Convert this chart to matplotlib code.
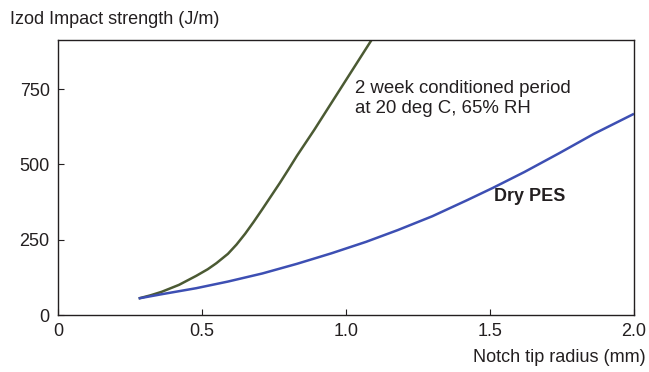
import matplotlib
matplotlib.use('Agg')
import matplotlib.pyplot as plt

# Data
conditioned_x = [0.28, 0.32, 0.36, 0.42, 0.48, 0.52, 0.55, 0.59, 0.62, 0.65, 0.68,
                 0.71, 0.74, 0.77, 0.80, 0.83, 0.89, 0.94, 1.01, 1.10]
conditioned_y = [55, 65, 77, 100, 130, 152, 172, 203, 234, 270, 310,
                 352, 395, 438, 483, 529, 615, 690, 795, 930]

dry_x = [0.28, 0.36, 0.48, 0.59, 0.71, 0.83, 0.95, 1.07, 1.18, 1.30, 1.42,
         1.51, 1.62, 1.74, 1.86, 2.0]
dry_y = [55, 69, 89, 111, 138, 170, 205, 243, 282, 328, 381,
         422, 475, 537, 601, 668]

x_ticks = [0, 0.5, 1.0, 1.5, 2.0]
x_tick_labels = ['0', '0.5', '1.0', '1.5', '2.0']
y_ticks = [0, 250, 500, 750]

plt.rcParams['font.family'] = ['Liberation Sans', 'DejaVu Sans']
ink = '#231f20'

fig = plt.figure(figsize=(6.49, 3.72), dpi=100)
ax = fig.add_axes([58 / 649, 1 - 315 / 372, (634 - 58) / 649, (315 - 40) / 372])

ax.plot(conditioned_x, conditioned_y, color='#4b5a33', lw=1.8,
        solid_capstyle='butt', solid_joinstyle='round')
ax.plot(dry_x, dry_y, color='#3d4fb3', lw=1.8,
        solid_capstyle='butt', solid_joinstyle='round')

ax.set_xlim(0, 2.0)
ax.set_ylim(0, 913)
ax.set_xticks(x_ticks)
ax.set_xticklabels(x_tick_labels)
ax.set_yticks(y_ticks)

for s in ax.spines.values():
    s.set_color(ink)
    s.set_linewidth(1.0)
ax.tick_params(direction='in', length=4, width=0.8, color=ink,
               labelsize=13, labelcolor=ink, pad=6)

# Annotations
ax.text(1.03, 780, '2 week conditioned period\nat 20 deg C, 65% RH',
        fontsize=13.4, color=ink, va='top', ha='left', linespacing=1.2)
ax.text(1.514, 392, 'Dry PES', fontsize=13, fontweight='bold',
        color=ink, va='center', ha='left')

fig.text(10 / 649, 1 - 20 / 372, 'Izod Impact strength (J/m)',
         fontsize=13, color=ink, va='center', ha='left')
fig.text(646 / 649, 1 - 357 / 372, 'Notch tip radius (mm)',
         fontsize=13, color=ink, va='center', ha='right')

fig.savefig('out.png', dpi=100)
